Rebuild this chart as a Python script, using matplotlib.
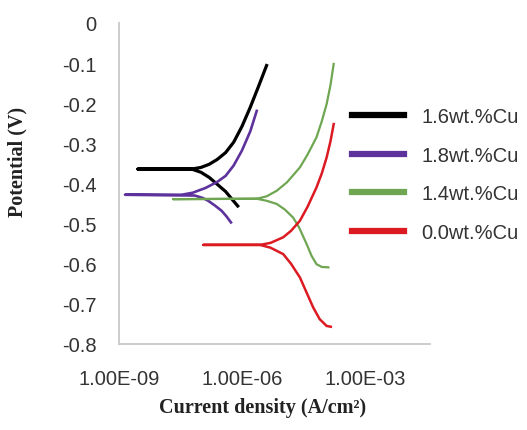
import matplotlib
matplotlib.use('Agg')
import matplotlib.pyplot as plt

# valores (corrente em A/cm2, potencial em V)
# cada curva: ramo catódico (fim -> junção), ponta em Ecorr, ramo anódico
i_16 = [7.9e-7, 5.6e-7, 4.0e-7, 2.5e-7, 1.6e-7, 1.0e-7, 5.9e-8, 2.9e-9,
        5.9e-8, 1.0e-7, 1.6e-7, 2.5e-7, 4.0e-7, 6.3e-7, 1.0e-6, 1.6e-6, 2.5e-6, 4.0e-6]
e_16 = [-0.456, -0.438, -0.420, -0.402, -0.385, -0.372, -0.364, -0.364,
        -0.364, -0.360, -0.352, -0.340, -0.323, -0.297, -0.258, -0.210, -0.160, -0.106]

i_18 = [5.4e-7, 4.2e-7, 3.2e-7, 2.2e-7, 1.5e-7, 1.1e-7, 7.1e-8, 1.4e-9,
        3.4e-8, 6.3e-8, 1.3e-7, 2.5e-7, 4.0e-7, 6.3e-7, 1.0e-6, 1.6e-6, 2.3e-6]
e_18 = [-0.497, -0.482, -0.468, -0.455, -0.443, -0.436, -0.430, -0.428,
        -0.428, -0.423, -0.411, -0.396, -0.381, -0.355, -0.318, -0.270, -0.219]

i_14 = [1.29e-4, 8.9e-5, 6.6e-5, 5.0e-5, 3.8e-5, 2.5e-5, 1.78e-5, 1.12e-5, 7.1e-6, 4.0e-6, 2.3e-6,
        2.1e-8,
        2.3e-6, 4.0e-6, 7.1e-6, 1.26e-5, 2.6e-5, 4.0e-5, 6.6e-5, 8.9e-5, 1.17e-4, 1.45e-4, 1.74e-4]
e_14 = [-0.609, -0.608, -0.601, -0.580, -0.551, -0.510, -0.485, -0.465, -0.451, -0.443, -0.438,
        -0.439,
        -0.438, -0.432, -0.418, -0.397, -0.360, -0.328, -0.285, -0.245, -0.202, -0.155, -0.102]

i_00 = [1.48e-4, 1.17e-4, 7.9e-5, 5.5e-5, 3.8e-5, 2.6e-5, 1.58e-5, 1.02e-5, 5.0e-6, 2.75e-6,
        1.15e-7,
        2.75e-6, 5.0e-6, 1.02e-5, 1.58e-5, 2.6e-5, 4.0e-5, 6.6e-5, 8.9e-5, 1.17e-4, 1.45e-4, 1.74e-4]
e_00 = [-0.757, -0.755, -0.738, -0.709, -0.672, -0.634, -0.600, -0.576, -0.560, -0.553,
        -0.553,
        -0.553, -0.548, -0.534, -0.518, -0.493, -0.458, -0.410, -0.375, -0.335, -0.295, -0.252]

series = [('1.6wt.%Cu', i_16, e_16, '#000000', 2.3),
          ('1.8wt.%Cu', i_18, e_18, '#5E329C', 1.9),
          ('1.4wt.%Cu', i_14, e_14, '#6EA651', 1.6),
          ('0.0wt.%Cu', i_00, e_00, '#DC1A22', 1.8)]

x_ticks = [1e-9, 1e-6, 1e-3]
x_labels = ['1.00E-09', '1.00E-06', '1.00E-03']
y_ticks = [0, -0.1, -0.2, -0.3, -0.4, -0.5, -0.6, -0.7, -0.8]

fig = plt.figure(figsize=(5.27, 4.31), dpi=100)
ax = fig.add_axes([119/527, 1 - 345/431, (430 - 119)/527, (345 - 24)/431])

linhas = []
for nome, i, e, cor, lw in series:
    l, = ax.plot(i, e, color=cor, lw=lw, label=nome, solid_joinstyle='round')
    linhas.append(l)

ax.set_xscale('log')
ax.set_xlim(1e-9, 3.9e-2)
ax.set_ylim(-0.8, 0)
ax.set_xticks(x_ticks)
ax.set_xticklabels(x_labels)
ax.minorticks_off()
ax.set_yticks(y_ticks)
ax.set_yticklabels([('%g' % v) for v in y_ticks])

for s in ['top', 'right']:
    ax.spines[s].set_visible(False)
for s in ['left', 'bottom']:
    ax.spines[s].set_color('#C8C8C8')
    ax.spines[s].set_linewidth(1.3)

ax.tick_params(axis='both', length=0, labelsize=14.5, labelcolor='#333333')
ax.tick_params(axis='x', pad=18)
ax.tick_params(axis='y', pad=16)
for t in ax.get_xticklabels() + ax.get_yticklabels():
    t.set_family('Liberation Sans')

fig.text(17/527, 1 - 162/431, 'Potential (V)', rotation=90, ha='center', va='center',
         family='Liberation Serif', weight='bold', fontsize=14.5, color='#222222')
fig.text(263/527, 1 - 408/431, 'Current density (A/cm²)', ha='center', va='center',
         family='Liberation Serif', weight='bold', fontsize=14.5, color='#222222')

leg = fig.legend(handles=linhas, loc='upper left', bbox_to_anchor=(352/527, 1 - 108/431),
                 frameon=False, borderpad=0, borderaxespad=0, handlelength=2.6,
                 handletextpad=0.85, labelspacing=0.98,
                 prop={'family': 'Liberation Sans', 'size': 14.5})
for l in leg.get_lines():
    l.set_linewidth(4.5)
for t in leg.get_texts():
    t.set_color('#333333')

fig.savefig('out.png', dpi=100)
